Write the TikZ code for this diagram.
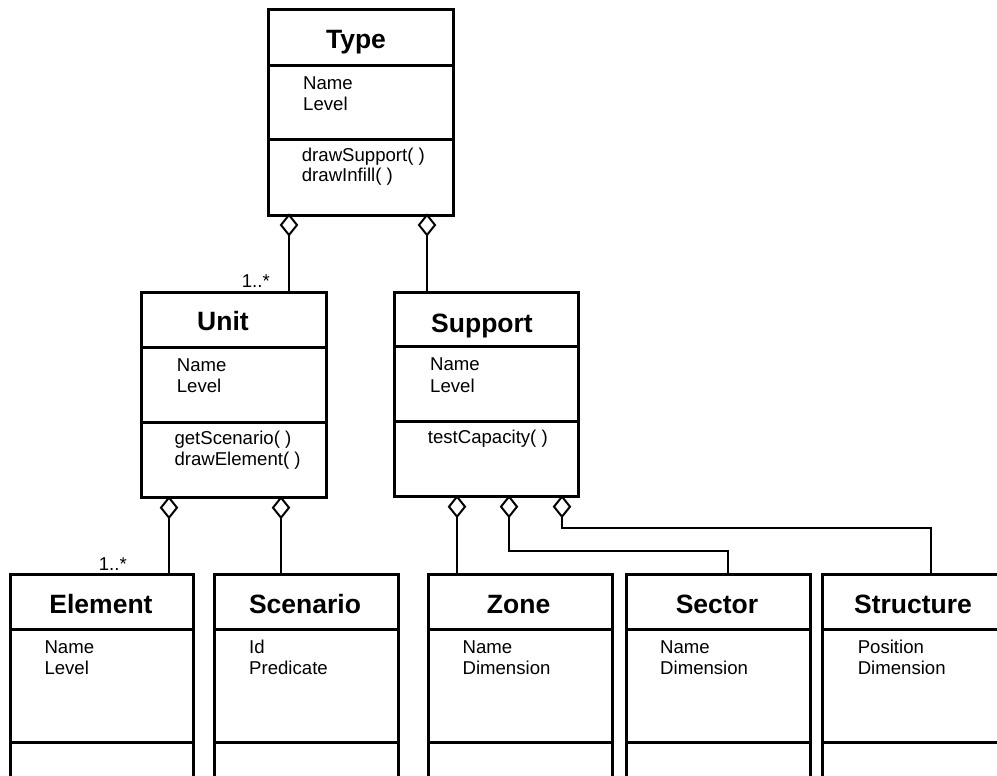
\documentclass[tikz,border=0pt]{standalone}
\usepackage{fontspec}
\setmainfont{Liberation Sans}
\usetikzlibrary{shapes.geometric}

\tikzset{
  classbox/.style={draw, line width=3pt, rectangle, inner sep=0pt, outer sep=0pt, anchor=north west},
  sepline/.style={line width=3pt},
  classtitle/.style={font=\fontsize{26.5}{29}\selectfont\bfseries, anchor=base, inner sep=0pt},
  member/.style={font=\fontsize{18.6}{20.7}\selectfont, anchor=base west, inner sep=0pt},
  mult/.style={font=\fontsize{18.6}{20.7}\selectfont, anchor=base east, inner sep=0pt},
  agg/.style={draw, diamond, fill=white, line width=2pt, minimum width=16pt, minimum height=20pt, inner sep=0pt, outer sep=0pt, anchor=north},
  conn/.style={line width=2pt}
}

% class box: name, left, top, width, height, first divider y, second divider y
\newcommand\umlclass[7]{%
  \node[classbox, minimum width=#4pt, minimum height=#5pt] (#1) at (#2,#3) {};
  \draw[sepline] (#1.west |- 0,#6) -- (#1.east |- 0,#6);
  \draw[sepline] (#1.west |- 0,#7) -- (#1.east |- 0,#7);
}

\begin{document}
\begin{tikzpicture}[x=1pt, y=-1pt]
\clip (0,0) rectangle (997,776);
\fill[white] (0,0) rectangle (997,776);

% classes
\umlclass{type}{268}{10}{185}{205}{66}{139}
\umlclass{unit}{141.5}{292.7}{185}{205}{347}{422}
\umlclass{support}{394}{292.7}{184}{204}{346.7}{421.7}
\umlclass{element}{10}{574}{183}{300}{629}{742}
\umlclass{scenario}{214}{574}{184}{300}{629}{742}
\umlclass{zone}{428}{574}{184}{300}{629}{742}
\umlclass{sector}{626.5}{574}{183.5}{300}{629}{742}
\umlclass{structure}{822}{574}{184}{300}{629}{742}

% Type
\node[classtitle] (type-t) at (356,49) {Type};
\node[member] (type-a1) at (303,90) {Name};
\node[member] (type-a2) at (303,110.7) {Level};
\node[member] (type-m1) at (301.7,161.7) {drawSupport( )};
\node[member] (type-m2) at (301.7,181.7) {drawInfill( )};

% Unit
\node[classtitle] (unit-t) at (223,330) {Unit};
\node[member] (unit-a1) at (176.7,371.7) {Name};
\node[member] (unit-a2) at (176.7,392.3) {Level};
\node[member] (unit-m1) at (174.3,444.3) {getScenario( )};
\node[member] (unit-m2) at (174.3,465) {drawElement( )};

% Support
\node[classtitle] (support-t) at (482,332.7) {Support};
\node[member] (support-a1) at (430,370.7) {Name};
\node[member] (support-a2) at (430,392.3) {Level};
\node[member] (support-m1) at (427.7,443.3) {testCapacity( )};

% lower row
\node[classtitle] (element-t) at (101,613) {Element};
\node[member] (element-a1) at (44.3,653.3) {Name};
\node[member] (element-a2) at (44.3,674.3) {Level};

\node[classtitle] (scenario-t) at (305,613) {Scenario};
\node[member] (scenario-a1) at (249,653.3) {Id};
\node[member] (scenario-a2) at (249,674.3) {Predicate};

\node[classtitle] (zone-t) at (518.6,613) {Zone};
\node[member] (zone-a1) at (462.4,653.3) {Name};
\node[member] (zone-a2) at (462.4,674.3) {Dimension};

\node[classtitle] (sector-t) at (717,613) {Sector};
\node[member] (sector-a1) at (660,653.3) {Name};
\node[member] (sector-a2) at (660,674.3) {Dimension};

\node[classtitle] (structure-t) at (913,613) {Structure};
\node[member] (structure-a1) at (857.6,653.3) {Position};
\node[member] (structure-a2) at (857.6,674.3) {Dimension};

% aggregation diamonds
\node[agg] (d1) at (289,215) {};
\node[agg] (d2) at (427,215) {};
\node[agg] (d3) at (169,497.7) {};
\node[agg] (d4) at (281,497.7) {};
\node[agg] (d5) at (457,496.7) {};
\node[agg] (d6) at (509,496.7) {};
\node[agg] (d7) at (562,496.7) {};

% connectors
\draw[conn] (d1.south) -- (d1.south |- unit.north);
\draw[conn] (d2.south) -- (d2.south |- support.north);
\draw[conn] (d3.south) -- (d3.south |- element.north);
\draw[conn] (d4.south) -- (d4.south |- scenario.north);
\draw[conn] (d5.south) -- (d5.south |- zone.north);
\draw[conn] (d6.south) -- ++(0,34) -| ([xshift=101.1pt]sector.north west);
\draw[conn] (d7.south) -- ++(0,11) -| ([xshift=109pt]structure.north west);

% multiplicities
\node[mult] (m-unit) at (270,287) {1..*};
\node[mult] (m-element) at (127,570) {1..*};
\end{tikzpicture}
\end{document}
